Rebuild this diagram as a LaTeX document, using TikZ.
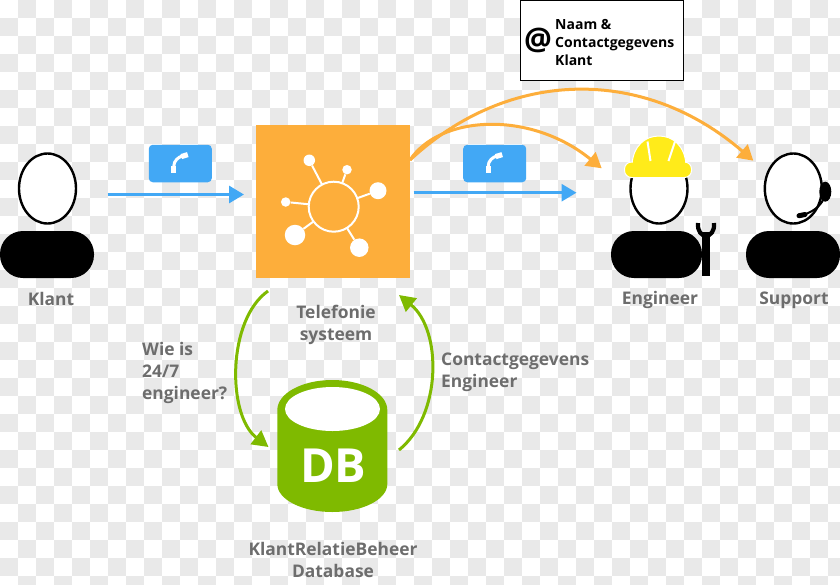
\documentclass[tikz,border=0pt]{standalone}
\usepackage{fontspec}
\setmainfont{Open Sans}
\usetikzlibrary{arrows.meta,shapes.geometric}
\definecolor{orangebox}{HTML}{FDAE3B}
\definecolor{callblue}{HTML}{42A8F5}
\definecolor{dbgreen}{HTML}{7FBA00}
\definecolor{labelgray}{HTML}{6D6D6D}
\definecolor{helmet}{HTML}{FFEB1A}
\definecolor{checker}{HTML}{E9E9E9}

\begin{document}
\begin{tikzpicture}[x=1pt,y=-1pt,
	head/.style={ellipse,draw=black,fill=white,line width=2.4pt,inner sep=0pt,minimum width=57pt,minimum height=70pt},
	torso/.style={rectangle,fill=black,rounded corners=23pt,inner sep=0pt,minimum width=94pt,minimum height=47pt},
	callbox/.style={rectangle,fill=callblue,rounded corners=4pt,inner sep=0pt,minimum width=63pt,minimum height=37.5pt},
	handset/.style={draw=white,line width=3pt},
	handsetend/.style={draw=white,line width=5.2pt},
	spot/.style={circle,fill=white,inner sep=0pt},
	caption/.style={text=labelgray,font=\bfseries\fontsize{17.4}{22}\selectfont,inner sep=0pt},
	bluearrow/.style={draw=callblue,line width=3pt,-{Triangle[length=15pt,width=17pt]}},
	orangearrow/.style={draw=orangebox,line width=3pt,-{Triangle[length=15pt,width=17pt]}},
	greenarrow/.style={draw=dbgreen,line width=3pt,-{Triangle[length=16pt,width=17pt]}}]
	\useasboundingbox (0,0) rectangle (840,584);
	\clip (0,0) rectangle (840,584);
	\fill[white] (0,0) rectangle (840,584);
	\foreach \i in {0,...,46}
		\foreach \j in {0,...,32} {
			\pgfmathparse{int(mod(\i+\j,2))}
			\ifnum\pgfmathresult=1
				\fill[checker] (18*\i,18*\j) rectangle (18*\i+18,18*\j+18);
			\fi
		}

	% people
	\node[head] (klanthead) at (47.5,188.5) {};
	\node[torso] (klantbody) at (47,254.5) {};
	\node[caption] (klantlabel) at (51,299) {Klant};

	\node[head] (engineerhead) at (659,188.5) {};
	\node[torso,minimum width=91pt] (engineerbody) at (656.5,254.5) {};
	\node[caption] (engineerlabel) at (660,300) {Engineer};

	\node[head] (supporthead) at (793.3,188.5) {};
	\node[torso] (supportbody) at (793,254.5) {};
	\node[caption] (supportlabel) at (794,300) {Support};

	% helmet, wrench, headset
	\fill[helmet,draw=white,line width=1pt] (632,165) .. controls (633,146) and (645,136) .. (659,136) .. controls (673,136) and (685,146) .. (686,165) -- cycle;
	\fill[helmet,draw=white,line width=1pt,rounded corners=7pt] (624.5,162) rectangle (691.5,177.5);
	\fill[helmet] (633,160) rectangle (685,170);
	\draw[white,line width=2pt] (647.5,141.5) -- (650.5,161);
	\draw[white,line width=2pt] (675,141.5) -- (668.5,161);
	\fill[black] (702.3,232) rectangle (709.5,276);
	\draw[black,line width=4.2pt] (698,223) .. controls (696.5,240) and (715.5,240) .. (714,223);
	\fill[black] (825.3,191.7) ellipse [x radius=6,y radius=10];
	\draw[black,line width=2pt] (823.5,199) .. controls (820,207) and (812,212) .. (802,215.5);
	\draw[black,line width=5pt,line cap=round] (799,215.7) -- (805,214.5);

	% telephone system
	\node[rectangle,fill=orangebox,inner sep=0pt,minimum width=154pt,minimum height=153pt] (telefonie) at (332.5,201) {};
	\coordinate (hub) at (333.7,206.7);
	\foreach \n/\x/\y/\d in {a/309.3/160.3/11.5,b/347/169.7/9.5,c/378/190.7/17,d/285.7/202/9.5,e/295/235/20.5,f/359.3/247.7/18.5} {
		\node[spot,minimum size=\d pt] (spot\n) at (\x,\y) {};
		\draw[white,line width=2pt] (hub) -- (spot\n);
	}
	\node[circle,draw=white,fill=orangebox,line width=2pt,inner sep=0pt,minimum size=50pt] (hubring) at (hub) {};
	\node[caption,align=center] (telefonielabel) at (336,325) {Telefonie\\systeem};

	% database
	\fill[dbgreen] (277.3,410) arc [start angle=180,end angle=360,x radius=55,y radius=30] -- (387.3,484) arc [start angle=0,end angle=180,x radius=55,y radius=28] -- cycle;
	\node[ellipse,fill=white,inner sep=0pt,minimum width=95pt,minimum height=44pt] (dbtop) at (332.5,409) {};
	\node[text=white,font=\bfseries\fontsize{47}{47}\selectfont,inner sep=0pt] (dbtext) at (333.3,465.5) {DB};
	\node[caption,align=center] (dblabel) at (333,560) {KlantRelatieBeheer\\Database};

	% call icons
	\foreach \n/\x in {klantcall/180.3,engineercall/494.7} {
		\node[callbox] (\n) at (\x,163.5) {};
		\draw[handset] (\x-6.5,166) .. controls (\x-6.5,161) and (\x-2,157) .. (\x+2,156);
		\draw[handsetend] (\x-6.5,172.8) -- (\x-6.5,165.5);
		\draw[handsetend] (\x+1,156.6) -- (\x+7.5,154.6);
	}

	% mail box
	\node[rectangle,draw=black,fill=white,line width=1pt,inner sep=0pt,minimum width=163pt,minimum height=80pt] (mailbox) at (601.7,40.5) {};
	\node[font=\bfseries\fontsize{31}{31}\selectfont,inner sep=0pt] (atsign) at (538,40) {@};
	\node[anchor=west,align=left,font=\bfseries\fontsize{14}{18}\selectfont,inner sep=0pt] (maillabel) at (555,42) {Naam \&\\Contactgegevens\\Klant};

	% side labels
	\node[caption,anchor=west,align=left] (vraaglabel) at (142,373) {Wie is\\24/7\\engineer?};
	\node[caption,anchor=west,align=left] (antwoordlabel) at (441,372) {Contactgegevens\\Engineer};

	% connectors
	\coordinate (klantout) at (107.5,194.5);
	\coordinate (telefoniein) at (244,194.5);
	\coordinate (telefonieout) at (413.5,192.7);
	\coordinate (engineerin) at (576.5,192.7);
	\coordinate (telefonietop) at (410,160);
	\coordinate (engineerhat) at (601.7,168.3);
	\coordinate (supportin) at (753.3,160.7);
	\coordinate (vraagstart) at (268,291);
	\coordinate (vraagend) at (268.5,447);
	\coordinate (antwoordstart) at (399,450);
	\coordinate (antwoordend) at (399,295);
	\draw[bluearrow] (klantout) -- (telefoniein);
	\draw[bluearrow] (telefonieout) -- (engineerin);
	\draw[orangearrow] (telefonietop) .. controls (440,115) and (530,110) .. (engineerhat);
	\draw[orangearrow] (telefonietop) .. controls (510,67) and (645,67) .. (supportin);
	\draw[greenarrow] (vraagstart) .. controls (227,320) and (227,415) .. (vraagend);
	\draw[greenarrow] (antwoordstart) .. controls (442,415) and (442,330) .. (antwoordend);
\end{tikzpicture}
\end{document}
